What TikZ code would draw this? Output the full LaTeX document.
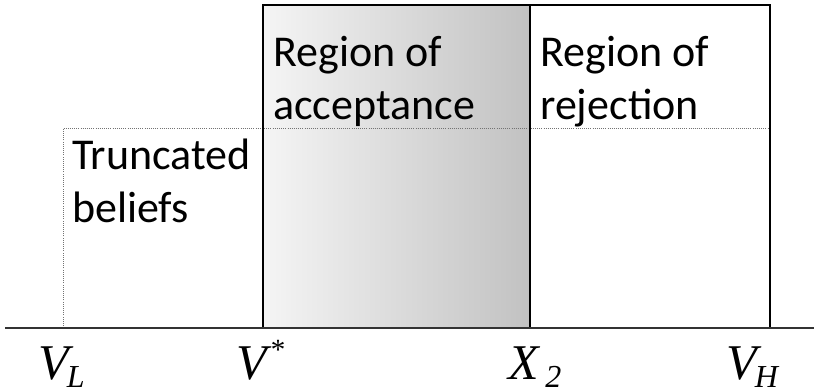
\documentclass[tikz,border=0pt]{standalone}
\usepackage{fontspec}
\setmainfont{Carlito}
\newfontfamily\timesfont{Liberation Serif}
\usetikzlibrary{positioning}
\tikzset{
  regbox/.style={draw=black,line width=1.4pt},
  accshade/.style={left color=black!4,right color=black!24},
  truncline/.style={densely dotted,black!55,line width=0.6pt},
  axisline/.style={black!80,line width=1.6pt},
  regtext/.style={anchor=base west,align=left,inner sep=0pt,
    font=\fontsize{33}{40}\selectfont},
  axlabel/.style={anchor=base west,inner sep=0pt,
    font=\timesfont\itshape\fontsize{37.5}{37.5}\selectfont},
}
\newcommand{\lowsub}[1]{\raisebox{-6pt}{\fontsize{24}{24}\selectfont #1}}
\newcommand{\highsup}[1]{\raisebox{15pt}{\fontsize{22}{22}\selectfont #1}}

\begin{document}
\begin{tikzpicture}[x=0.75pt,y=-0.75pt]
  \useasboundingbox (0,0) rectangle (814,392);
  % points on the axis
  \coordinate (axl) at (5,328);
  \coordinate (axr) at (814,328);
  \coordinate (vl) at (63,328);
  \coordinate (vs) at (263,328);
  \coordinate (xt) at (530,328);
  \coordinate (vh) at (770,328);
  \coordinate (acctop) at (263,5);
  \coordinate (rejtop) at (770,5);
  \coordinate (trtop) at (63,128);
  \coordinate (trend) at (770,128);
  % regions
  \shade[accshade] (acctop) rectangle (xt);
  \draw[truncline] (vl) -- (trtop) -- (trend);
  \draw[regbox] (vs) rectangle (530,5);
  \draw[regbox] (xt) rectangle (rejtop);
  \draw[axisline] (axl) -- (axr);
  % texts
  \node[regtext] (acc) at (273,120) {Region of\\acceptance};
  \node[regtext] (rej) at (540,120) {Region of\\rejection};
  \node[regtext] (trunc) at (72,223) {Truncated\\beliefs};
  % axis labels
  \node[axlabel] (lblvl) at (38,379) {V\kern-1.5pt\lowsub{L}};
  \node[axlabel] (lblvs) at (236,379) {V\kern2pt\highsup{*}};
  \node[axlabel] (lblxt) at (508,379) {X\kern5pt\lowsub{2}};
  \node[axlabel] (lblvh) at (726,379) {V\kern-1.5pt\lowsub{H}};
\end{tikzpicture}
\end{document}
